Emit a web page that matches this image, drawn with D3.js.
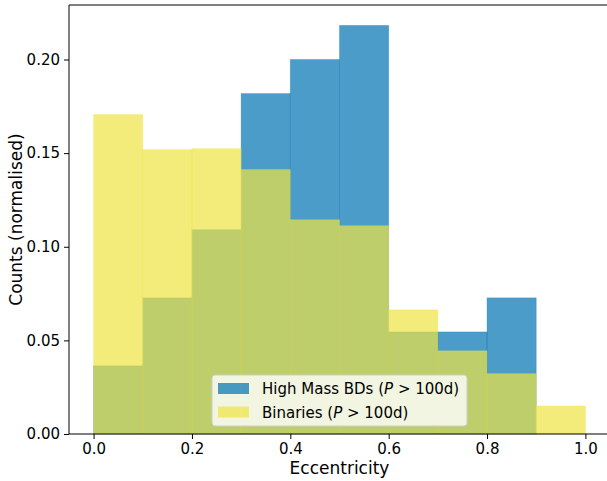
<!DOCTYPE html>
<html>
<head>
<meta charset="utf-8">
<script src="https://cdn.jsdelivr.net/npm/d3@7"></script>
<style>
  body { margin: 0; background: #fff; }
  text { font-family: "DejaVu Sans", sans-serif; fill: #000; }
</style>
</head>
<body>
<div id="chart"></div>
<script>
// bin edges for eccentricity
var binEdges = [0.0, 0.1, 0.2, 0.3, 0.4, 0.5, 0.6, 0.7, 0.8, 0.9, 1.0];
// high mass brown dwarfs, normalised counts
var bdCounts = [0.0364, 0.0727, 0.1091, 0.1818, 0.2000, 0.2182, 0.0545, 0.0545, 0.0727, 0.0];
// binaries, normalised counts
var binCounts = [0.1706, 0.1519, 0.1524, 0.1412, 0.1144, 0.1112, 0.0663, 0.0444, 0.0322, 0.0150];

var xTicks = [0.0, 0.2, 0.4, 0.6, 0.8, 1.0];
var yTicks = [0.00, 0.05, 0.10, 0.15, 0.20];

const chartWidth = 607;
const chartHeight = 481;

const marginTop = 5;
const marginBottom = 47;
const marginLeft = 69;
const plotRight = 610;

var svg = d3.select("#chart")
  .append("svg")
  .attr("width", chartWidth)
  .attr("height", chartHeight);

var xScale = d3.scaleLinear()
  .domain([-0.05, 1.05])
  .range([marginLeft, plotRight]);

var yScale = d3.scaleLinear()
  .domain([0, 0.2182 * 1.05])
  .range([chartHeight - marginBottom, marginTop]);

function drawBars(values, fill) {
  svg.append("g")
    .selectAll("rect")
    .data(values)
    .enter()
    .append("rect")
    .attr("x", function(d, i) { return xScale(binEdges[i]); })
    .attr("y", function(d) { return yScale(d); })
    .attr("width", function(d, i) { return xScale(binEdges[i + 1]) - xScale(binEdges[i]); })
    .attr("height", function(d) { return yScale(0) - yScale(d); })
    .style("fill", fill)
    .style("fill-opacity", 0.7)
    .style("stroke", fill)
    .style("stroke-opacity", 0.35)
    .style("stroke-width", 0.8);
}

drawBars(bdCounts, "#0072b2");
drawBars(binCounts, "#f0e442");

// axes
var xAxis = d3.axisBottom(xScale)
  .tickValues(xTicks)
  .tickFormat(d3.format(".1f"))
  .tickSize(5)
  .tickPadding(4);

var yAxis = d3.axisLeft(yScale)
  .tickValues(yTicks)
  .tickFormat(d3.format(".2f"))
  .tickSize(5)
  .tickPadding(4);

var gx = svg.append("g")
  .attr("transform", "translate(0," + (chartHeight - marginBottom) + ")")
  .call(xAxis);

var gy = svg.append("g")
  .attr("transform", "translate(" + marginLeft + ",0)")
  .call(yAxis);

[gx, gy].forEach(function(g) {
  g.selectAll("text").style("font-size", "15px").style("font-family", "DejaVu Sans");
  g.selectAll("line").style("stroke", "#000").style("stroke-width", 1);
  g.select(".domain").remove();
});

// spines
svg.append("line")
  .attr("x1", marginLeft).attr("x2", marginLeft)
  .attr("y1", marginTop).attr("y2", chartHeight - marginBottom)
  .style("stroke", "#000").style("stroke-width", 1);
svg.append("line")
  .attr("x1", marginLeft).attr("x2", plotRight)
  .attr("y1", chartHeight - marginBottom).attr("y2", chartHeight - marginBottom)
  .style("stroke", "#000").style("stroke-width", 1);
svg.append("line")
  .attr("x1", marginLeft).attr("x2", plotRight)
  .attr("y1", marginTop).attr("y2", marginTop)
  .style("stroke", "#000").style("stroke-width", 1);

// axis labels
svg.append("text")
  .attr("x", (marginLeft + plotRight) / 2)
  .attr("y", 474)
  .style("text-anchor", "middle")
  .style("font-size", "17px")
  .text("Eccentricity");

svg.append("text")
  .attr("transform", "translate(22," + ((marginTop + chartHeight - marginBottom) / 2) + ") rotate(-90)")
  .style("text-anchor", "middle")
  .style("font-size", "17px")
  .text("Counts (normalised)");

// legend
var legend = svg.append("g");
legend.append("rect")
  .attr("x", 212).attr("y", 375)
  .attr("width", 255).attr("height", 51)
  .attr("rx", 3)
  .style("fill", "#fff").style("fill-opacity", 0.8)
  .style("stroke", "#cccccc").style("stroke-width", 1);

var legendItems = [
  { color: "#0072b2", pre: "High Mass BDs (" },
  { color: "#f0e442", pre: "Binaries (" }
];

legendItems.forEach(function(item, i) {
  var cy = 388.5 + i * 23.5;
  legend.append("rect")
    .attr("x", 218).attr("y", cy - 5.5)
    .attr("width", 31).attr("height", 11)
    .style("fill", item.color).style("fill-opacity", 0.7);
  var t = legend.append("text")
    .attr("x", 262).attr("y", cy + 5.5)
    .style("font-size", "15px");
  t.append("tspan").text(item.pre);
  t.append("tspan").style("font-style", "italic").text("P");
  t.append("tspan").text(" > 100d)");
});
</script>
</body>
</html>
